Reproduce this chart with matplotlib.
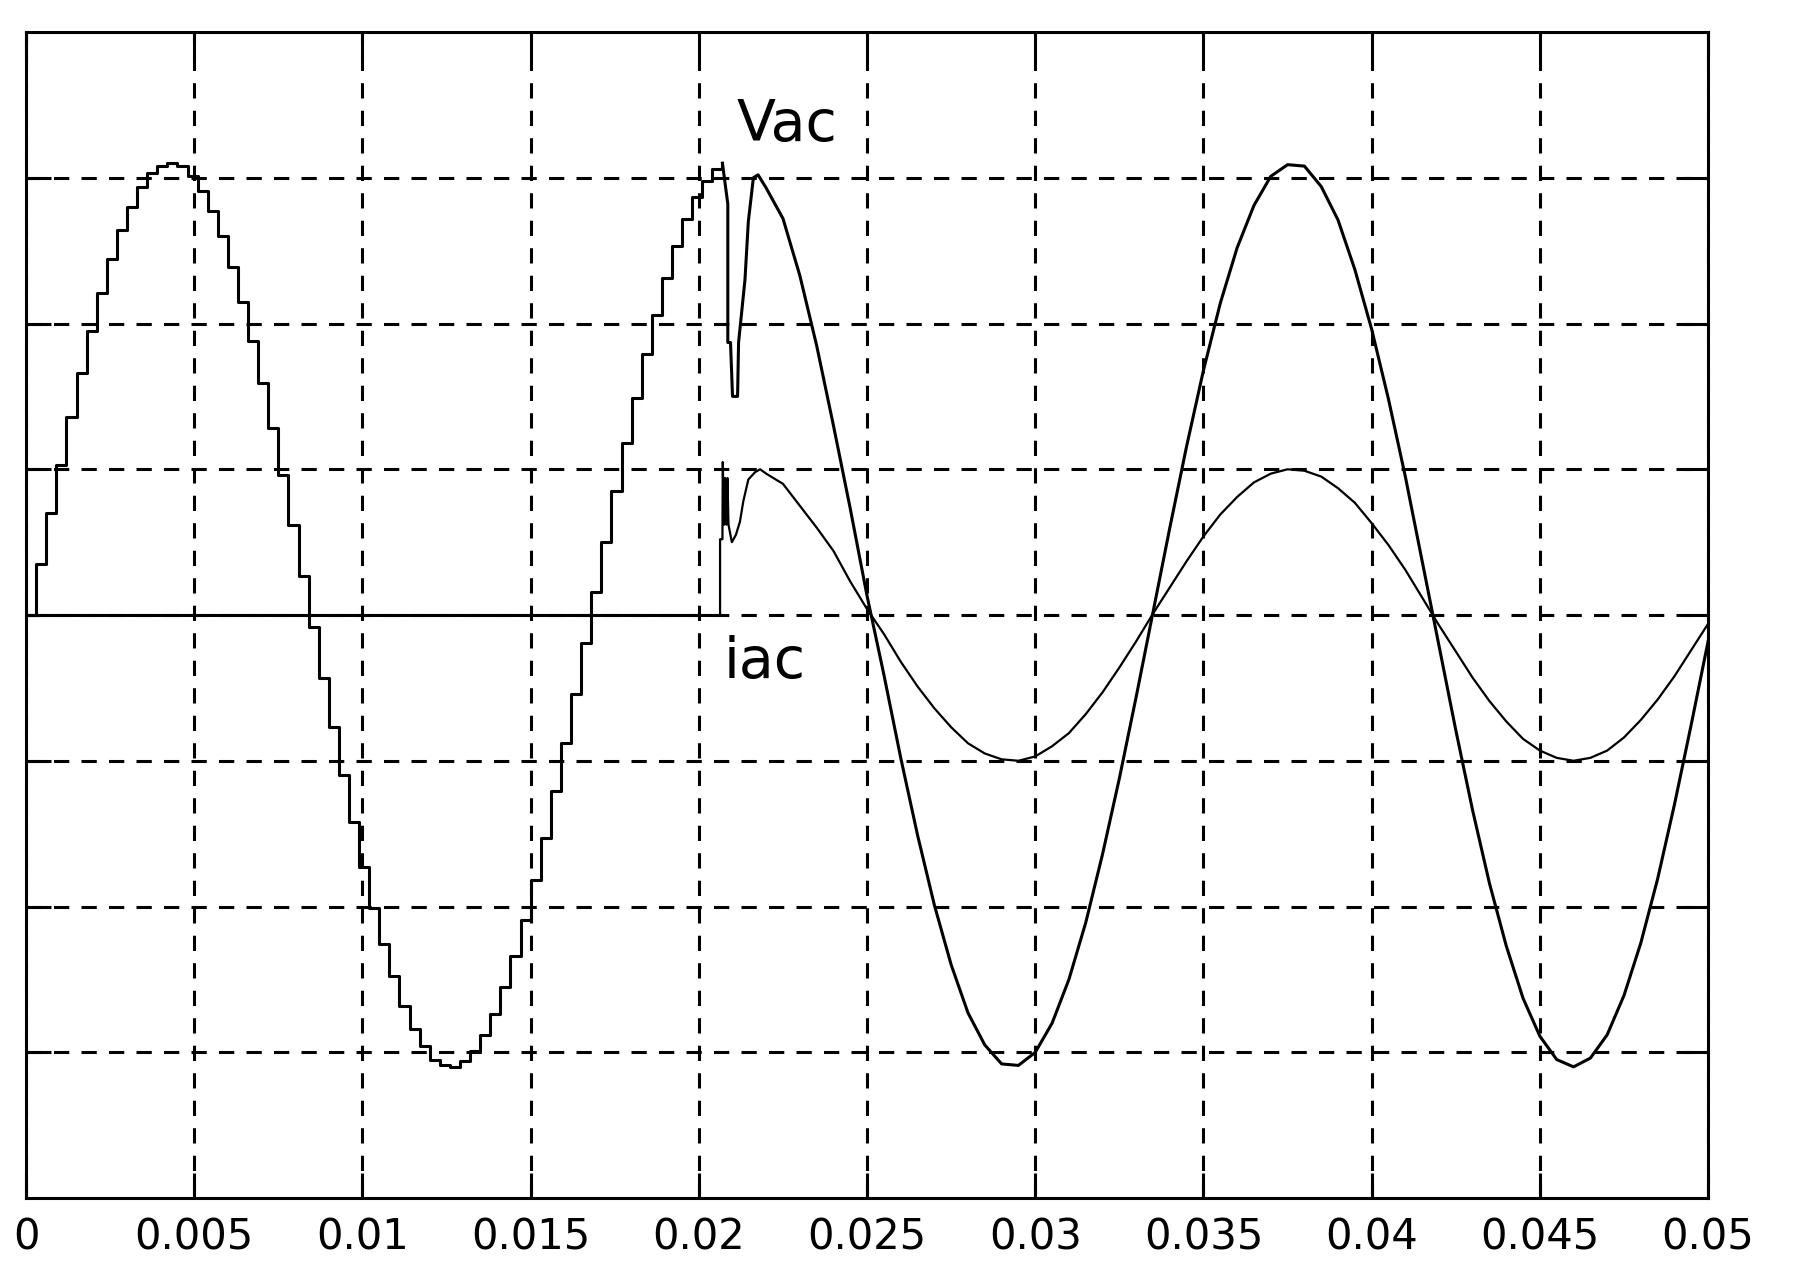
"""Vac / iac waveform chart (MATLAB-style scope plot)."""
import numpy as np
import matplotlib
matplotlib.use("Agg")
import matplotlib.pyplot as plt

# --- data ------------------------------------------------------------------
# Vac before the switch-on: stepped (sampled) waveform, one level per 0.3 ms
step_dt = 0.0003
vac_steps = [0.00, 0.35, 0.70, 1.03, 1.36, 1.66, 1.95, 2.21, 2.44, 2.64,
             2.80, 2.94, 3.03, 3.08, 3.10, 3.08, 3.01, 2.91, 2.77, 2.60,
             2.39, 2.15, 1.88, 1.59, 1.28, 0.96, 0.62, 0.27, -0.08, -0.43,
             -0.77, -1.10, -1.42, -1.73, -2.01, -2.26, -2.48, -2.68, -2.84, -2.96,
             -3.05, -3.09, -3.10, -3.06, -2.99, -2.88, -2.74, -2.55, -2.34, -2.09,
             -1.82, -1.53, -1.21, -0.88, -0.54, -0.19, 0.16, 0.50, 0.85, 1.18,
             1.49, 1.79, 2.06, 2.31, 2.53, 2.72, 2.87, 2.98, 3.06, 3.10]

# switching transient
vac_tr_t = [0.02070, 0.02086, 0.02086, 0.02094, 0.02100, 0.02115, 0.02118,
            0.02137, 0.02147, 0.02162, 0.02176]
vac_tr_v = [3.10, 2.82, 1.87, 1.87, 1.50, 1.50, 1.87, 2.30, 2.70, 3.00, 3.02]

iac_off_t = [0.0, 0.02063]
iac_off_v = [0.0, 0.0]
iac_tr_t = [0.02063, 0.02063, 0.02070, 0.02071, 0.02075, 0.02078, 0.02082,
            0.02085, 0.02088, 0.02098, 0.02110, 0.02122, 0.02132, 0.02147,
            0.02167, 0.02182]
iac_tr_v = [0.00, 0.52, 0.52, 1.05, 0.62, 0.94, 0.62, 0.94, 0.62, 0.50,
            0.55, 0.64, 0.78, 0.93, 0.98, 1.00]

# steady state after the transient, sampled every 0.5 ms from 0.022 s
smooth_t0, smooth_dt = 0.022, 0.0005
vac_smooth = [2.93, 2.72, 2.33, 1.85, 1.30, 0.73, 0.13,
              -0.41, -0.98, -1.51, -1.99, -2.40, -2.73, -2.95, -3.08, -3.09, -3.00,
              -2.80, -2.50, -2.11, -1.64, -1.12, -0.56, 0.02, 0.60, 1.16, 1.68,
              2.14, 2.52, 2.81, 3.01, 3.09, 3.08, 2.94, 2.71, 2.37, 1.96,
              1.48, 0.95, 0.37, -0.21, -0.79, -1.34, -1.84, -2.27, -2.63, -2.89,
              -3.05, -3.10, -3.04, -2.88, -2.61, -2.25, -1.81, -1.30, -0.75, -0.18]
iac_smooth = [0.97, 0.90, 0.75, 0.60, 0.44, 0.23, 0.04,
              -0.13, -0.32, -0.49, -0.64, -0.77, -0.88, -0.95, -0.99, -1.00, -0.97,
              -0.90, -0.81, -0.68, -0.53, -0.36, -0.18, 0.01, 0.19, 0.37, 0.54,
              0.69, 0.81, 0.91, 0.97, 1.00, 0.99, 0.95, 0.87, 0.77, 0.63,
              0.48, 0.31, 0.12, -0.07, -0.25, -0.43, -0.59, -0.73, -0.85, -0.93,
              -0.98, -1.00, -0.98, -0.93, -0.84, -0.72, -0.58, -0.42, -0.24, -0.06]

xticks = [0, 0.005, 0.01, 0.015, 0.02, 0.025, 0.03, 0.035, 0.04, 0.045, 0.05]
xtick_labels = ["0", "0.005", "0.01", "0.015", "0.02", "0.025", "0.03",
                "0.035", "0.04", "0.045", "0.05"]
yticks = [-3, -2, -1, 0, 1, 2, 3]


def main():
    t_step = np.arange(len(vac_steps)) * step_dt
    t_smooth = smooth_t0 + np.arange(len(vac_smooth)) * smooth_dt

    fig = plt.figure(figsize=(17.98, 12.86), dpi=100)
    ax = fig.add_axes([0.0145, 0.0684, 0.9355, 0.9067])

    lw_v = 2.2
    lw_i = 1.6
    ax.plot(t_step, vac_steps, drawstyle="steps-post", color="k", lw=lw_v)
    ax.plot(vac_tr_t + list(t_smooth), vac_tr_v + vac_smooth, color="k", lw=lw_v)
    ax.plot(iac_off_t, iac_off_v, color="k", lw=lw_v)
    ax.plot(iac_tr_t + list(t_smooth), iac_tr_v + iac_smooth, color="k", lw=lw_i)

    # curve labels
    ax.text(0.02111, 3.25, "Vac", fontsize=41, family="DejaVu Sans",
            ha="left", va="baseline")
    ax.text(0.02075, -0.435, "iac", fontsize=41, family="DejaVu Sans",
            ha="left", va="baseline")

    ax.set_xlim(0, 0.05)
    ax.set_ylim(-4, 4)
    ax.set_xticks(xticks)
    ax.set_xticklabels(xtick_labels, fontsize=30, family="DejaVu Sans")
    ax.set_yticks(yticks)
    ax.set_yticklabels([])
    ax.tick_params(direction="in", length=18, width=2.2, top=True, right=True,
                   pad=13)
    ax.grid(True, color="k", lw=2.2, ls=(0, (5, 4)))
    for sp in ax.spines.values():
        sp.set_linewidth(2.2)

    fig.savefig("out.png", dpi=100)


if __name__ == "__main__":
    main()
